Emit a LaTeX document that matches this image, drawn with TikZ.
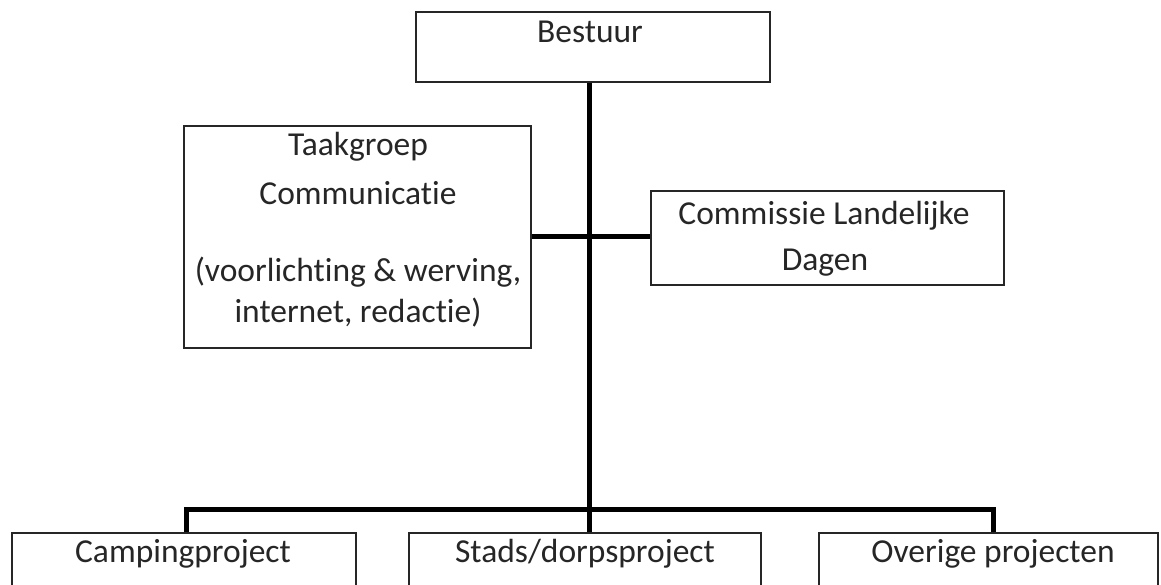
\documentclass[tikz,border=0pt]{standalone}
\usepackage{fontspec}
\setmainfont[Ligatures=NoCommon]{Carlito}
\begin{document}
\begin{tikzpicture}[x=1pt,y=-1pt,
  box/.style={draw=black!85, line width=1.5pt, inner sep=0pt, fill=white},
  conn/.style={line width=5pt, draw=black},
  lbl/.style={anchor=base, inner sep=0pt, font=\fontsize{33.5}{40}\selectfont, text=black!85}]
\clip (0,0) rectangle (1161,585);
\fill[white] (0,0) rectangle (1161,585);
% boxes
\node[box, minimum width=354pt, minimum height=70pt]  (bestuur) at (593,47) {};
\node[box, minimum width=347pt, minimum height=222pt] (taak)    at (357.5,237) {};
\node[box, minimum width=353pt, minimum height=94pt]  (comm)    at (827.5,238) {};
\node[box, minimum width=344pt, minimum height=87pt]  (camp)    at (184,576.5) {};
\node[box, minimum width=352pt, minimum height=87pt]  (stads)   at (585,576.5) {};
\node[box, minimum width=339pt, minimum height=87pt]  (over)    at (988.5,576.5) {};
% bus coordinates
\coordinate (busc) at (589,509);
\coordinate (busl) at (186,509);
\coordinate (busr) at (993,509);
% connectors
\draw[conn] (busc |- bestuur.south) -- (busc);
\draw[conn] (taak.east) -- (taak.east -| comm.west);
\draw[conn] (busl |- camp.north) -- (busl) -- (busr) -- (busr |- over.north);
\draw[conn] (busc) -- (busc |- stads.north);
% labels
\node[lbl] (tb) at (590,43) {Bestuur};
\node[lbl] (t1) at (358,156) {Taakgroep};
\node[lbl] (t2) at (358,205) {Communicatie};
\node[lbl] (t3) at (358,281) {(voorlichting \& werving,};
\node[lbl] (t4) at (358,322) {internet, redactie)};
\node[lbl] (c1) at (824,225) {Commissie Landelijke};
\node[lbl] (c2) at (825,270) {Dagen};
\node[lbl] (p1) at (183,562) {Campingproject};
\node[lbl] (p2) at (585,562) {Stads/dorpsproject};
\node[lbl] (p3) at (993,562) {Overige projecten};
\end{tikzpicture}
\end{document}
